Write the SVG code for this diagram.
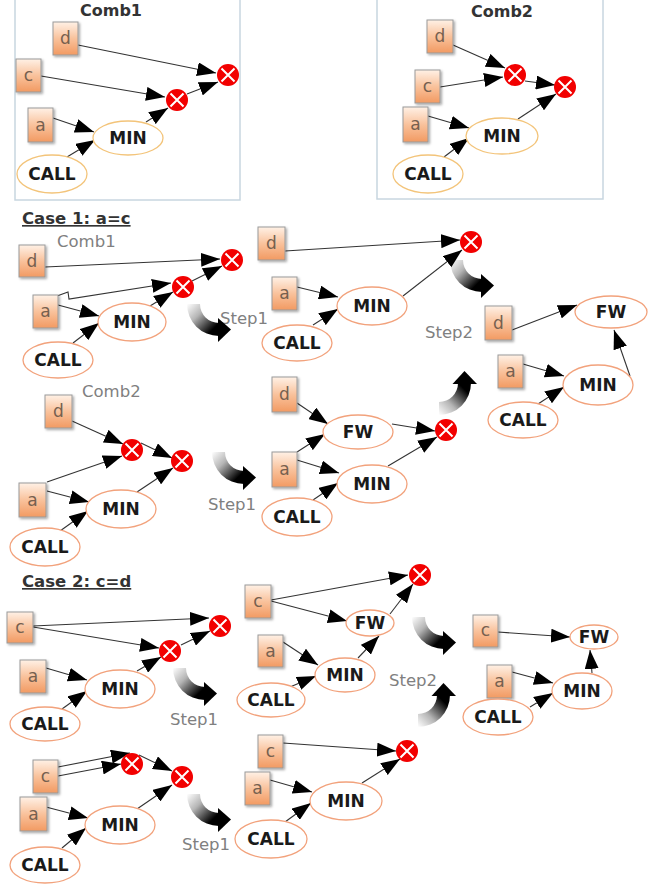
<svg xmlns="http://www.w3.org/2000/svg" width="665" height="888" viewBox="0 0 665 888">
<defs>
<style>
.bx{fill:#fff;stroke:#c8d6e0;stroke-width:1.5}
.sq{fill:url(#sqg);stroke:#9a9a9a;stroke-width:1;filter:url(#sh)}
.el{fill:#fff;stroke:#f2a27c;stroke-width:1.3}
.ely{fill:#fff;stroke:#f3c47a;stroke-width:1.3}
.lt{font-family:"DejaVu Sans","Liberation Sans",sans-serif;font-size:17px;fill:#76604f;text-anchor:middle}
.nt{font-family:"DejaVu Sans","Liberation Sans",sans-serif;font-weight:bold;font-size:17px;fill:#1a1a1a;text-anchor:middle}
.hd{font-family:"DejaVu Sans","Liberation Sans",sans-serif;font-weight:bold;font-size:16.5px;fill:#333;text-decoration:underline}
.tt{font-family:"DejaVu Sans","Liberation Sans",sans-serif;font-weight:bold;font-size:16px;fill:#333;text-anchor:middle}
.gl{font-family:"DejaVu Sans","Liberation Sans",sans-serif;font-size:16.5px;fill:#808080}
.e{stroke:#333;stroke-width:1.1;fill:none;marker-end:url(#ah)}
.xc{fill:#f20000}
.xl{stroke:#fff;stroke-width:2}
.bd{fill:url(#gd)}
.bu{fill:url(#gu)}
.hk{fill:#000}
</style>
<linearGradient id="sqg" x1="0" y1="0" x2="0" y2="1">
<stop offset="0" stop-color="#fff1e6"/>
<stop offset="0.5" stop-color="#f9c29c"/>
<stop offset="1" stop-color="#f29a62"/>
</linearGradient>
<linearGradient id="gd" x1="0" y1="0" x2="1" y2="1">
<stop offset="0" stop-color="#ffffff"/>
<stop offset="0.35" stop-color="#b5b5b5"/>
<stop offset="0.8" stop-color="#000"/>
</linearGradient>
<linearGradient id="gu" x1="0" y1="1" x2="1" y2="0">
<stop offset="0" stop-color="#ffffff"/>
<stop offset="0.35" stop-color="#b5b5b5"/>
<stop offset="0.8" stop-color="#000"/>
</linearGradient>
<filter id="sh" x="-20%" y="-20%" width="150%" height="150%">
<feDropShadow dx="1.5" dy="1.5" stdDeviation="1" flood-color="#000" flood-opacity="0.35"/>
</filter>
<marker id="ah" markerUnits="userSpaceOnUse" markerWidth="19" markerHeight="14" refX="19" refY="7" orient="auto">
<path d="M0,0 L19,7 L0,14 Z" fill="#000"/>
</marker>
<g id="xm">
<circle class="xc" r="11"/>
<path class="xl" d="M-6.5,-6.5 L6.5,6.5 M-6.5,6.5 L6.5,-6.5"/>
</g>
<g id="sdn">
<path class="bd" d="M2,4 A32,32 0 0 0 34,36 L34,23 A19,19 0 0 1 15,4 Z"/>
<path class="hk" d="M33,18 L46,29.5 L33,42 Z"/>
</g>
<g id="sup">
<path class="bu" d="M4,44 A32,32 0 0 0 36,12 L23,12 A19,19 0 0 1 4,31 Z"/>
<path class="hk" d="M17.5,13 L29.5,0 L42,13 Z"/>
</g>
</defs>
<rect width="665" height="888" fill="#fff"/>

<g id="frames">
<rect class="bx" x="15" y="-3" width="225" height="203"/>
<rect class="bx" x="377" y="-3" width="226" height="202"/>
<text class="tt" x="111" y="16">Comb1</text>
<text class="tt" x="502" y="17">Comb2</text>
</g>

<g id="labels">
<text class="hd" x="22" y="224">Case 1: a=c</text>
<text class="hd" x="22" y="587">Case 2: c=d</text>
<text class="gl" x="57" y="247">Comb1</text>
<text class="gl" x="82" y="397">Comb2</text>
<text class="gl" x="220" y="324">Step1</text>
<text class="gl" x="425" y="338">Step2</text>
<text class="gl" x="208" y="510">Step1</text>
<text class="gl" x="170" y="725">Step1</text>
<text class="gl" x="389" y="686">Step2</text>
<text class="gl" x="182" y="850">Step1</text>
</g>

<g id="steps">
<use href="#sdn" x="185" y="300"/>
<use href="#sdn" x="448" y="256"/>
<use href="#sdn" x="210" y="448"/>
<use href="#sup" x="435" y="371"/>
<use href="#sdn" x="171" y="664"/>
<use href="#sdn" x="410" y="613"/>
<use href="#sup" x="414" y="683"/>
<use href="#sdn" x="185" y="790"/>
</g>

<g id="connectors">
<path class="e" d="M78,45 L216,73"/>
<path class="e" d="M41,76 L165,97"/>
<path class="e" d="M53,118 L94,132"/>
<path class="e" d="M67,157 L95,140"/>
<path class="e" d="M146,122 L168,108"/>
<path class="e" d="M187,94 L218,82"/>
<path class="e" d="M453,45 L505,68"/>
<path class="e" d="M440,87 L503,77"/>
<path class="e" d="M525,81 L555,85"/>
<path class="e" d="M428,116 L469,128"/>
<path class="e" d="M444,157 L469,138"/>
<path class="e" d="M518,119 L556,94"/>
<path class="e" d="M45,267 L220,259"/>
<path class="e" d="M57,296 L68,292 L69,299 L171,283"/>
<path class="e" d="M58,305 L99,316"/>
<path class="e" d="M73,343 L99,323"/>
<path class="e" d="M150,306 L173,292"/>
<path class="e" d="M192,281 L222,266"/>
<path class="e" d="M285,251 L460,240"/>
<path class="e" d="M297,287 L338,297"/>
<path class="e" d="M313,325 L338,309"/>
<path class="e" d="M403,296 L462,250"/>
<path class="e" d="M512,330 L577,305"/>
<path class="e" d="M523,364 L564,376"/>
<path class="e" d="M538,404 L564,387"/>
<path class="e" d="M630,376 L614,330"/>
<path class="e" d="M72,421 L123,444"/>
<path class="e" d="M47,482 L122,456"/>
<path class="e" d="M141,443 L172,458"/>
<path class="e" d="M47,491 L89,502"/>
<path class="e" d="M60,531 L88,511"/>
<path class="e" d="M137,492 L173,468"/>
<path class="e" d="M297,403 L328,424"/>
<path class="e" d="M297,452 L325,434"/>
<path class="e" d="M297,460 L339,473"/>
<path class="e" d="M313,500 L338,483"/>
<path class="e" d="M392,424 L435,431"/>
<path class="e" d="M388,466 L437,437"/>
<path class="e" d="M33,626 L209,618"/>
<path class="e" d="M33,627 L159,648"/>
<path class="e" d="M46,668 L87,680"/>
<path class="e" d="M62,709 L87,691"/>
<path class="e" d="M137,671 L161,657"/>
<path class="e" d="M181,645 L210,631"/>
<path class="e" d="M271,600 L408,575"/>
<path class="e" d="M271,601 L347,621"/>
<path class="e" d="M390,614 L413,584"/>
<path class="e" d="M283,642 L318,665"/>
<path class="e" d="M290,687 L316,676"/>
<path class="e" d="M358,658 L379,636"/>
<path class="e" d="M498,632 L570,637"/>
<path class="e" d="M512,672 L553,683"/>
<path class="e" d="M530,707 L553,693"/>
<path class="e" d="M592,673 L590,650"/>
<path class="e" d="M58,767 L130,753"/>
<path class="e" d="M58,776 L121,764"/>
<path class="e" d="M139,755 L172,771"/>
<path class="e" d="M46,807 L88,818"/>
<path class="e" d="M62,848 L86,828"/>
<path class="e" d="M137,809 L172,785"/>
<path class="e" d="M283,743 L396,751"/>
<path class="e" d="M270,780 L312,792"/>
<path class="e" d="M285,822 L311,803"/>
<path class="e" d="M362,783 L400,759"/>
</g>

<g id="t1_d"><rect class="sq" x="53" y="22" width="25" height="33"/><text class="lt" x="65.5" y="44">d</text></g>
<g id="t1_c"><rect class="sq" x="16" y="59" width="25" height="33"/><text class="lt" x="28.5" y="81">c</text></g>
<g id="t1_a"><rect class="sq" x="28" y="108" width="25" height="34"/><text class="lt" x="40.5" y="131">a</text></g>
<g id="t1_min"><ellipse class="ely" cx="128" cy="138" rx="35" ry="17"/><text class="nt" x="128" y="144">MIN</text></g>
<g id="t1_call"><ellipse class="ely" cx="52" cy="174" rx="35" ry="19"/><text class="nt" x="52" y="180">CALL</text></g>
<use id="t1_x1" href="#xm" x="177" y="100"/>
<use id="t1_x2" href="#xm" x="228" y="75"/>

<g id="t2_d"><rect class="sq" x="427" y="20" width="26" height="33"/><text class="lt" x="440" y="42">d</text></g>
<g id="t2_c"><rect class="sq" x="415" y="70" width="25" height="33"/><text class="lt" x="427.5" y="92">c</text></g>
<g id="t2_a"><rect class="sq" x="403" y="107" width="25" height="35"/><text class="lt" x="415.5" y="130">a</text></g>
<g id="t2_min"><ellipse class="ely" cx="502" cy="136" rx="36" ry="18"/><text class="nt" x="502" y="142">MIN</text></g>
<g id="t2_call"><ellipse class="ely" cx="428" cy="174" rx="35" ry="19"/><text class="nt" x="428" y="180">CALL</text></g>
<use id="t2_x1" href="#xm" x="515" y="75"/>
<use id="t2_x2" href="#xm" x="565" y="87"/>

<g id="c1a_d"><rect class="sq" x="19" y="245" width="26" height="32"/><text class="lt" x="32" y="267">d</text></g>
<g id="c1a_a"><rect class="sq" x="33" y="295" width="25" height="33"/><text class="lt" x="45.5" y="317">a</text></g>
<g id="c1a_min"><ellipse class="el" cx="132" cy="322" rx="34" ry="19"/><text class="nt" x="132" y="328">MIN</text></g>
<g id="c1a_call"><ellipse class="el" cx="58" cy="360" rx="35" ry="18"/><text class="nt" x="58" y="366">CALL</text></g>
<use id="c1a_x1" href="#xm" x="183" y="287"/>
<use id="c1a_x2" href="#xm" x="232" y="260"/>

<g id="c1b_d"><rect class="sq" x="258" y="227" width="27" height="33"/><text class="lt" x="271.5" y="249">d</text></g>
<g id="c1b_a"><rect class="sq" x="272" y="277" width="25" height="33"/><text class="lt" x="284.5" y="299">a</text></g>
<g id="c1b_min"><ellipse class="el" cx="372" cy="306" rx="35" ry="19"/><text class="nt" x="372" y="312">MIN</text></g>
<g id="c1b_call"><ellipse class="el" cx="297" cy="343" rx="35" ry="18"/><text class="nt" x="297" y="349">CALL</text></g>
<use id="c1b_x" href="#xm" x="471" y="242"/>

<g id="c1c_d"><rect class="sq" x="485" y="306" width="27" height="34"/><text class="lt" x="498.5" y="329">d</text></g>
<g id="c1c_fw"><ellipse class="el" cx="611" cy="312" rx="36" ry="16"/><text class="nt" x="611" y="318">FW</text></g>
<g id="c1c_a"><rect class="sq" x="498" y="355" width="25" height="33"/><text class="lt" x="510.5" y="377">a</text></g>
<g id="c1c_min"><ellipse class="el" cx="598" cy="385" rx="35" ry="20"/><text class="nt" x="598" y="391">MIN</text></g>
<g id="c1c_call"><ellipse class="el" cx="523" cy="420" rx="35" ry="18"/><text class="nt" x="523" y="426">CALL</text></g>

<g id="c1d_d"><rect class="sq" x="45" y="395" width="27" height="33"/><text class="lt" x="58.5" y="417">d</text></g>
<g id="c1d_a"><rect class="sq" x="19" y="483" width="27" height="34"/><text class="lt" x="32.5" y="506">a</text></g>
<use id="c1d_x1" href="#xm" x="132" y="450"/>
<use id="c1d_x2" href="#xm" x="182" y="461"/>
<g id="c1d_min"><ellipse class="el" cx="121" cy="509" rx="35" ry="19"/><text class="nt" x="121" y="515">MIN</text></g>
<g id="c1d_call"><ellipse class="el" cx="45" cy="547" rx="35" ry="19"/><text class="nt" x="45" y="553">CALL</text></g>

<g id="c1e_d"><rect class="sq" x="272" y="377" width="25" height="35"/><text class="lt" x="284.5" y="400">d</text></g>
<g id="c1e_fw"><ellipse class="el" cx="358" cy="432" rx="35" ry="17"/><text class="nt" x="358" y="438">FW</text></g>
<g id="c1e_a"><rect class="sq" x="272" y="452" width="25" height="35"/><text class="lt" x="284.5" y="475">a</text></g>
<g id="c1e_min"><ellipse class="el" cx="372" cy="484" rx="35" ry="19"/><text class="nt" x="372" y="490">MIN</text></g>
<g id="c1e_call"><ellipse class="el" cx="297" cy="517" rx="35" ry="19"/><text class="nt" x="297" y="523">CALL</text></g>
<use id="c1e_x" href="#xm" x="446" y="430"/>

<g id="c2a_c"><rect class="sq" x="7" y="612" width="26" height="31"/><text class="lt" x="20" y="633">c</text></g>
<g id="c2a_a"><rect class="sq" x="20" y="660" width="26" height="33"/><text class="lt" x="33" y="682">a</text></g>
<g id="c2a_min"><ellipse class="el" cx="120" cy="689" rx="35" ry="19"/><text class="nt" x="120" y="695">MIN</text></g>
<g id="c2a_call"><ellipse class="el" cx="45" cy="724" rx="35" ry="17"/><text class="nt" x="45" y="730">CALL</text></g>
<use id="c2a_x1" href="#xm" x="170" y="651"/>
<use id="c2a_x2" href="#xm" x="220" y="626"/>

<use id="c2b_x" href="#xm" x="420" y="575"/>
<g id="c2b_c"><rect class="sq" x="245" y="585" width="26" height="33"/><text class="lt" x="258" y="607">c</text></g>
<g id="c2b_fw"><ellipse class="el" cx="370" cy="623" rx="24" ry="13"/><text class="nt" x="370" y="629">FW</text></g>
<g id="c2b_a"><rect class="sq" x="258" y="635" width="25" height="32"/><text class="lt" x="270.5" y="657">a</text></g>
<g id="c2b_min"><ellipse class="el" cx="345" cy="675" rx="30" ry="17"/><text class="nt" x="345" y="681">MIN</text></g>
<g id="c2b_call"><ellipse class="el" cx="271" cy="700" rx="34" ry="17"/><text class="nt" x="271" y="706">CALL</text></g>

<g id="c2c_c"><rect class="sq" x="473" y="615" width="25" height="32"/><text class="lt" x="485.5" y="636">c</text></g>
<g id="c2c_fw"><ellipse class="el" cx="594" cy="637" rx="24" ry="12"/><text class="nt" x="594" y="643">FW</text></g>
<g id="c2c_a"><rect class="sq" x="487" y="665" width="25" height="33"/><text class="lt" x="499.5" y="687">a</text></g>
<g id="c2c_min"><ellipse class="el" cx="582" cy="691" rx="30" ry="18"/><text class="nt" x="582" y="697">MIN</text></g>
<g id="c2c_call"><ellipse class="el" cx="498" cy="717" rx="35" ry="18"/><text class="nt" x="498" y="723">CALL</text></g>

<g id="c2d_c"><rect class="sq" x="33" y="760" width="25" height="33"/><text class="lt" x="45.5" y="782">c</text></g>
<g id="c2d_a"><rect class="sq" x="20" y="797" width="27" height="34"/><text class="lt" x="33.5" y="820">a</text></g>
<use id="c2d_x1" href="#xm" x="132" y="764"/>
<use id="c2d_x2" href="#xm" x="182" y="777"/>
<g id="c2d_min"><ellipse class="el" cx="120" cy="825" rx="35" ry="19"/><text class="nt" x="120" y="831">MIN</text></g>
<g id="c2d_call"><ellipse class="el" cx="45" cy="865" rx="35" ry="18"/><text class="nt" x="45" y="871">CALL</text></g>

<g id="c2e_c"><rect class="sq" x="258" y="735" width="25" height="33"/><text class="lt" x="270.5" y="757">c</text></g>
<g id="c2e_a"><rect class="sq" x="245" y="772" width="25" height="33"/><text class="lt" x="257.5" y="794">a</text></g>
<use id="c2e_x" href="#xm" x="407" y="751"/>
<g id="c2e_min"><ellipse class="el" cx="346" cy="801" rx="36" ry="19"/><text class="nt" x="346" y="807">MIN</text></g>
<g id="c2e_call"><ellipse class="el" cx="271" cy="839" rx="36" ry="19"/><text class="nt" x="271" y="845">CALL</text></g>
</svg>
